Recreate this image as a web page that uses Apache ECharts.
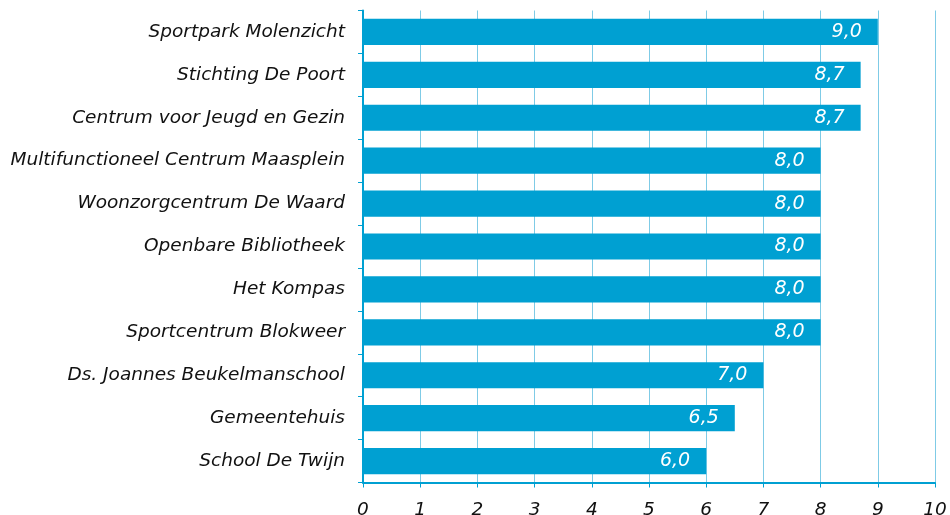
<!DOCTYPE html>
<html lang="nl">
<head>
    <meta charset="UTF-8">
    <title>Staafdiagram</title>
    <script src="https://cdn.jsdelivr.net/npm/echarts@6/dist/echarts.min.js"></script>
</head>
<body style="margin:0;width:950px;height:515px;background:#fff">
    <div id="container" style="width:950px;height:515px"></div>
</body>
<script>
    // categorieen van boven naar beneden
    var locaties = [
        'Sportpark Molenzicht',
        'Stichting De Poort',
        'Centrum voor Jeugd en Gezin',
        'Multifunctioneel Centrum Maasplein',
        'Woonzorgcentrum De Waard',
        'Openbare Bibliotheek',
        'Het Kompas',
        'Sportcentrum Blokweer',
        'Ds. Joannes Beukelmanschool',
        'Gemeentehuis',
        'School De Twijn'
    ];
    var cijfers = [9.0, 8.7, 8.7, 8.0, 8.0, 8.0, 8.0, 8.0, 7.0, 6.5, 6.0];

    var blauw = '#00a0d2';
    var font = '"DejaVu Sans", Verdana, sans-serif';

    var dom = document.getElementById("container");
    var myChart = echarts.init(dom);

    var option = {
        animation: false,
        grid: {
            left: 363,
            right: 15,
            top: 10.5,
            bottom: 32.5,
            containLabel: false,
            outerBoundsMode: 'none'
        },
        xAxis: {
            type: 'value',
            min: 0,
            max: 10,
            interval: 1,
            axisLine: {show: true, lineStyle: {color: blauw, width: 2}},
            axisTick: {show: true, length: 5, lineStyle: {color: blauw}},
            splitLine: {show: true, lineStyle: {color: '#7fcbe6', width: 1}},
            axisLabel: {
                color: '#111',
                fontFamily: font,
                fontStyle: 'italic',
                fontSize: 18.5,
                margin: 18
            }
        },
        yAxis: {
            type: 'category',
            inverse: true,
            data: locaties,
            axisLine: {show: true, lineStyle: {color: blauw, width: 2}},
            axisTick: {show: true, length: 5, lineStyle: {color: blauw}},
            axisLabel: {
                color: '#111',
                fontFamily: font,
                fontStyle: 'italic',
                fontSize: 18.5,
                margin: 18
            }
        },
        series: [{
            type: 'bar',
            data: cijfers,
            barCategoryGap: '39%',
            itemStyle: {color: blauw},
            label: {
                show: true,
                position: 'insideRight',
                distance: 16,
                color: '#fff',
                fontFamily: font,
                fontStyle: 'italic',
                fontSize: 19,
                formatter: function (p) {
                    return p.value.toFixed(1).replace('.', ',');
                }
            }
        }]
    };
    myChart.setOption(option, true);
</script>
</html>
